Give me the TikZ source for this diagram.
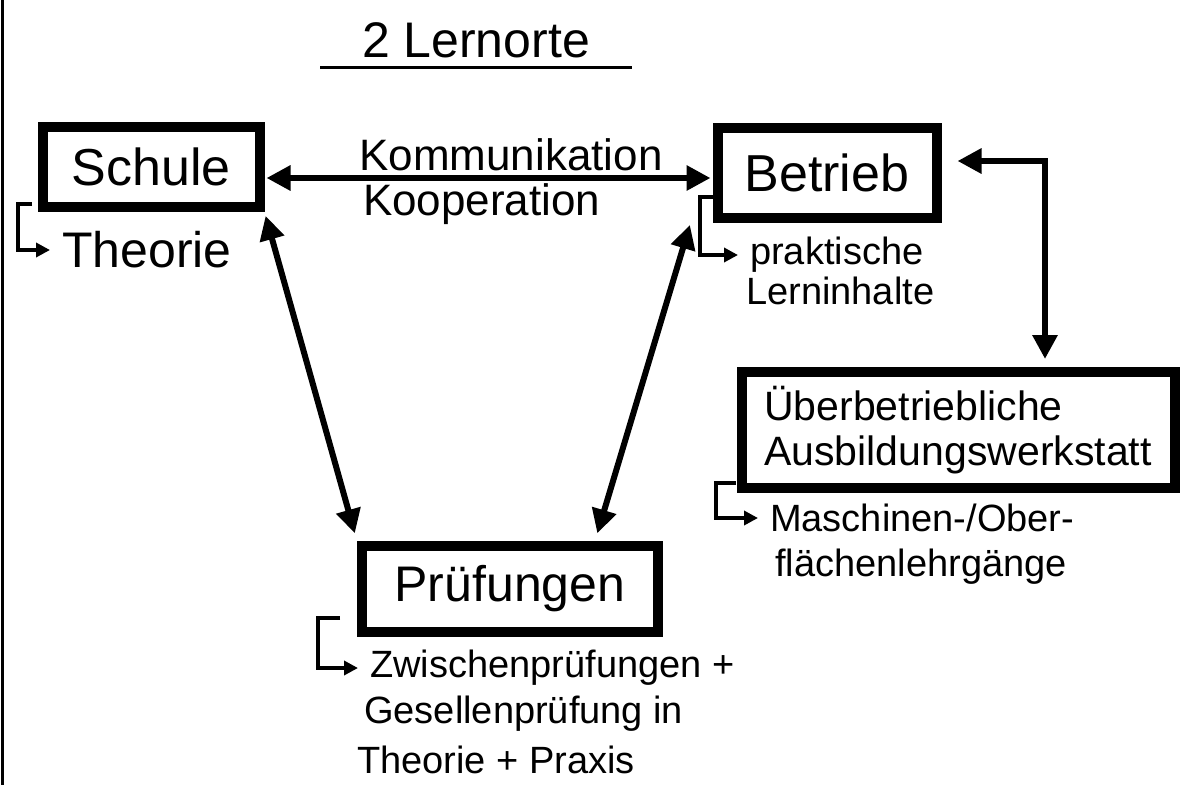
\documentclass[tikz,border=0pt]{standalone}
\usepackage{fontspec}
\setmainfont{Liberation Sans}
\usetikzlibrary{arrows.meta,calc}
\begin{document}
\begin{tikzpicture}[x=1pt,y=-1pt,
  box/.style={draw, line width=10pt, inner sep=0pt, font=\fontsize{52}{58}\selectfont},
  note/.style={inner sep=2pt, font=\fontsize{38}{42}\selectfont},
  dbl/.style={line width=6pt, {Triangle[length=24pt,width=24pt]}-{Triangle[length=24pt,width=24pt]}},
  brk/.style={line width=3.5pt, -{Triangle[length=14pt,width=14pt]}, shorten >=10pt},
  lbl/.style={inner sep=2pt, font=\fontsize{44}{48}\selectfont}]
\useasboundingbox (0,0) rectangle (1184,785);
\fill[white] (0,0) rectangle (1184,785);
% scan edge
\draw[line width=3pt] (2,0) -- (2,785);
% title
\node[inner sep=0pt, font=\fontsize{50}{56}\selectfont] (title) at (476,40) {2 Lernorte};
\draw[line width=3pt] ($(title.south)+(-156,10)$) -- ($(title.south)+(156,10)$);
% boxes
\node[box, minimum width=217pt, minimum height=80pt] (schule) at (151,167) {Schule};
\node[box, minimum width=219pt, minimum height=90pt] (betrieb) at (827,173) {Betrieb};
\node[box, minimum width=433pt, minimum height=116pt, align=left, font=\fontsize{41}{45}\selectfont] (ub) at (958,430) {Überbetriebliche\\Ausbildungswerkstatt};
\node[box, minimum width=296pt, minimum height=86pt, font=\fontsize{50}{56}\selectfont] (prf) at (510,589) {Prüfungen};
% notes
\node[note, anchor=west, font=\fontsize{50}{56}\selectfont] (theorie) at (60,250) {Theorie};
\node[note, anchor=west] (prakt1) at (748,255) {praktische};
\node[note, anchor=west] (prakt2) at (744,291) {Lerninhalte};
\node[note, anchor=west] (masch1) at (768,518) {Maschinen-/Ober-};
\node[note, anchor=west] (masch2) at (773,567) {flächenlehrgänge};
\node[note, anchor=west] (zw1) at (368,668) {Zwischenprüfungen +};
\node[note, anchor=west] (zw2) at (362,714) {Gesellenprüfung in};
\node[note, anchor=west] (zw3) at (355,760) {Theorie + Praxis};
% bracket starts
\coordinate (bs) at (32,204);
\coordinate (bb) at (713,197);
\coordinate (bu) at (736,483);
\coordinate (bp) at (340,618);
\draw[brk] (bs) -- ++(-14,0) |- (theorie.west);
\draw[brk] (bb) -- ++(-13,0) |- (prakt1.west);
\draw[brk] (bu) -- ++(-20,0) |- (masch1.west);
\draw[brk] (bp) -- ++(-22,0) |- (zw1.west);
% connectors
\draw[dbl, shorten <=2pt, shorten >=2pt] ([yshift=-11pt]schule.east) --
  node[lbl, pos=0.55, above=2pt] {Kommunikation}
  node[lbl, pos=0.485, below=1pt] {Kooperation}
  ([yshift=-5pt]betrieb.west);
\draw[dbl, shorten <=4pt, shorten >=8pt] (schule.south east) -- (prf.north west);
\draw[dbl, shorten <=2pt, shorten >=8pt] ([xshift=-22pt]betrieb.south west) -- ($(prf.north east)+(-68,0)$);
\draw[dbl, shorten <=16pt, shorten >=8pt] ([yshift=12pt]betrieb.east) -| ($(ub.north)+(87,0)$);
\end{tikzpicture}
\end{document}
